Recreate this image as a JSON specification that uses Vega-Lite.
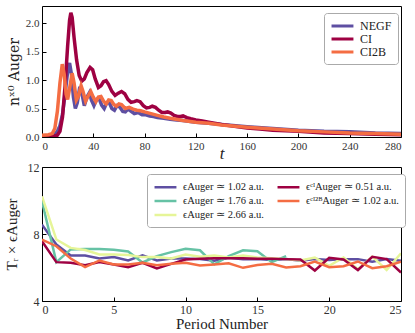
{
"$schema": "https://vega.github.io/schema/vega-lite/v6.json",
"autosize": {"type": "pad"},
"padding": {"left": 3, "top": 5, "right": 13, "bottom": 5},
"spacing": 30,
"bounds": "flush",
"config": {
  "font": "Liberation Serif",
  "view": {"stroke": "black", "strokeWidth": 1},
  "axis": {"domain": false, "grid": false, "tickColor": "black", "tickSize": -4, "labelPadding": 7, "labelColor": "#333", "labelFont": "Liberation Serif", "titleFont": "Liberation Serif", "titleFontWeight": "normal", "titleColor": "#222", "labelFontSize": 11},
  "legend": {"labelFont": "Liberation Serif", "labelFontSize": 11, "labelColor": "#222", "fillColor": "white", "strokeColor": "#aaa", "cornerRadius": 3, "padding": 6, "symbolType": "M-1,0H3", "symbolSize": 120, "symbolStrokeWidth": 3, "labelOffset": 16, "rowPadding": 1}
},
"resolve": {"scale": {"color": "independent"}, "legend": {"color": "independent"}},
"vconcat": [
{
  "width": 359, "height": 131,
  "data": {"values": [
    {"s":"NEGF","t":0,"v":0.02},{"s":"NEGF","t":5,"v":0.02},{"s":"NEGF","t":8,"v":0.03},{"s":"NEGF","t":10,"v":0.05},{"s":"NEGF","t":12,"v":0.1},{"s":"NEGF","t":14,"v":0.2},{"s":"NEGF","t":16,"v":0.4},{"s":"NEGF","t":18,"v":0.75},{"s":"NEGF","t":20,"v":1.15},{"s":"NEGF","t":21.5,"v":1.3},{"s":"NEGF","t":23,"v":1.1},{"s":"NEGF","t":24.5,"v":0.7},{"s":"NEGF","t":26,"v":0.5},{"s":"NEGF","t":27.5,"v":0.6},{"s":"NEGF","t":29.5,"v":0.88},{"s":"NEGF","t":31,"v":0.78},{"s":"NEGF","t":33,"v":0.55},{"s":"NEGF","t":35,"v":0.7},{"s":"NEGF","t":37,"v":0.78},{"s":"NEGF","t":38.5,"v":0.65},{"s":"NEGF","t":40.5,"v":0.55},{"s":"NEGF","t":42.5,"v":0.66},{"s":"NEGF","t":44.5,"v":0.68},{"s":"NEGF","t":46.5,"v":0.56},{"s":"NEGF","t":48.5,"v":0.5},{"s":"NEGF","t":50.5,"v":0.6},{"s":"NEGF","t":52.5,"v":0.6},{"s":"NEGF","t":54.5,"v":0.5},{"s":"NEGF","t":56.5,"v":0.47},{"s":"NEGF","t":58.5,"v":0.55},{"s":"NEGF","t":60.5,"v":0.53},{"s":"NEGF","t":63,"v":0.45},{"s":"NEGF","t":65,"v":0.44},{"s":"NEGF","t":67,"v":0.49},{"s":"NEGF","t":69,"v":0.46},{"s":"NEGF","t":72,"v":0.41},{"s":"NEGF","t":75,"v":0.43},{"s":"NEGF","t":78,"v":0.39},{"s":"NEGF","t":81,"v":0.39},{"s":"NEGF","t":84,"v":0.37},{"s":"NEGF","t":87,"v":0.36},{"s":"NEGF","t":90,"v":0.34},{"s":"NEGF","t":95,"v":0.33},{"s":"NEGF","t":100,"v":0.31},{"s":"NEGF","t":105,"v":0.3},{"s":"NEGF","t":110,"v":0.29},{"s":"NEGF","t":120,"v":0.26},{"s":"NEGF","t":130,"v":0.24},{"s":"NEGF","t":140,"v":0.22},{"s":"NEGF","t":160,"v":0.18},{"s":"NEGF","t":180,"v":0.15},{"s":"NEGF","t":200,"v":0.12},{"s":"NEGF","t":220,"v":0.1},{"s":"NEGF","t":240,"v":0.09},{"s":"NEGF","t":260,"v":0.07},{"s":"NEGF","t":280,"v":0.06},
    {"s":"CI","t":0,"v":0.01},{"s":"CI","t":8,"v":0.01},{"s":"CI","t":12,"v":0.03},{"s":"CI","t":14,"v":0.1},{"s":"CI","t":16,"v":0.35},{"s":"CI","t":18,"v":0.9},{"s":"CI","t":20,"v":1.6},{"s":"CI","t":21.5,"v":2.05},{"s":"CI","t":22.5,"v":2.18},{"s":"CI","t":23.5,"v":2.1},{"s":"CI","t":25,"v":1.75},{"s":"CI","t":27,"v":1.35},{"s":"CI","t":29,"v":1.08},{"s":"CI","t":31,"v":0.98},{"s":"CI","t":33,"v":1.02},{"s":"CI","t":35,"v":1.13},{"s":"CI","t":37.5,"v":1.22},{"s":"CI","t":39.5,"v":1.18},{"s":"CI","t":41.5,"v":1.02},{"s":"CI","t":44,"v":0.87},{"s":"CI","t":46,"v":0.9},{"s":"CI","t":48,"v":0.97},{"s":"CI","t":50,"v":0.99},{"s":"CI","t":52,"v":0.92},{"s":"CI","t":54.5,"v":0.8},{"s":"CI","t":57,"v":0.73},{"s":"CI","t":59.5,"v":0.77},{"s":"CI","t":62,"v":0.8},{"s":"CI","t":64.5,"v":0.76},{"s":"CI","t":67,"v":0.66},{"s":"CI","t":69.5,"v":0.61},{"s":"CI","t":72,"v":0.62},{"s":"CI","t":74,"v":0.64},{"s":"CI","t":76.5,"v":0.62},{"s":"CI","t":79,"v":0.55},{"s":"CI","t":81.5,"v":0.51},{"s":"CI","t":84,"v":0.52},{"s":"CI","t":86,"v":0.54},{"s":"CI","t":88.5,"v":0.52},{"s":"CI","t":91,"v":0.47},{"s":"CI","t":93.5,"v":0.43},{"s":"CI","t":96,"v":0.43},{"s":"CI","t":98,"v":0.44},{"s":"CI","t":100.5,"v":0.42},{"s":"CI","t":103,"v":0.38},{"s":"CI","t":105.5,"v":0.36},{"s":"CI","t":108,"v":0.36},{"s":"CI","t":110,"v":0.37},{"s":"CI","t":113,"v":0.34},{"s":"CI","t":116,"v":0.32},{"s":"CI","t":120,"v":0.3},{"s":"CI","t":125,"v":0.28},{"s":"CI","t":130,"v":0.26},{"s":"CI","t":140,"v":0.22},{"s":"CI","t":150,"v":0.19},{"s":"CI","t":160,"v":0.16},{"s":"CI","t":170,"v":0.14},{"s":"CI","t":180,"v":0.12},{"s":"CI","t":200,"v":0.1},{"s":"CI","t":220,"v":0.07},{"s":"CI","t":240,"v":0.06},{"s":"CI","t":260,"v":0.05},{"s":"CI","t":280,"v":0.04},
    {"s":"CI2B","t":0,"v":0.03},{"s":"CI2B","t":5,"v":0.04},{"s":"CI2B","t":8,"v":0.06},{"s":"CI2B","t":10,"v":0.15},{"s":"CI2B","t":12,"v":0.45},{"s":"CI2B","t":14,"v":0.95},{"s":"CI2B","t":15.8,"v":1.28},{"s":"CI2B","t":17.3,"v":1.1},{"s":"CI2B","t":18.8,"v":0.75},{"s":"CI2B","t":20,"v":0.66},{"s":"CI2B","t":21.5,"v":0.85},{"s":"CI2B","t":23.5,"v":1.12},{"s":"CI2B","t":25,"v":0.95},{"s":"CI2B","t":26.8,"v":0.65},{"s":"CI2B","t":28.5,"v":0.72},{"s":"CI2B","t":30.5,"v":0.9},{"s":"CI2B","t":32,"v":0.8},{"s":"CI2B","t":34,"v":0.63},{"s":"CI2B","t":36,"v":0.72},{"s":"CI2B","t":38,"v":0.8},{"s":"CI2B","t":40,"v":0.7},{"s":"CI2B","t":42,"v":0.62},{"s":"CI2B","t":44,"v":0.7},{"s":"CI2B","t":46,"v":0.71},{"s":"CI2B","t":48,"v":0.63},{"s":"CI2B","t":50,"v":0.58},{"s":"CI2B","t":52,"v":0.65},{"s":"CI2B","t":54,"v":0.64},{"s":"CI2B","t":56,"v":0.57},{"s":"CI2B","t":58,"v":0.54},{"s":"CI2B","t":60,"v":0.58},{"s":"CI2B","t":62,"v":0.57},{"s":"CI2B","t":65,"v":0.5},{"s":"CI2B","t":68,"v":0.52},{"s":"CI2B","t":71,"v":0.49},{"s":"CI2B","t":74,"v":0.47},{"s":"CI2B","t":77,"v":0.46},{"s":"CI2B","t":80,"v":0.44},{"s":"CI2B","t":85,"v":0.41},{"s":"CI2B","t":90,"v":0.38},{"s":"CI2B","t":95,"v":0.35},{"s":"CI2B","t":100,"v":0.33},{"s":"CI2B","t":110,"v":0.29},{"s":"CI2B","t":120,"v":0.26},{"s":"CI2B","t":130,"v":0.24},{"s":"CI2B","t":140,"v":0.21},{"s":"CI2B","t":160,"v":0.17},{"s":"CI2B","t":180,"v":0.14},{"s":"CI2B","t":200,"v":0.11},{"s":"CI2B","t":220,"v":0.09},{"s":"CI2B","t":240,"v":0.07},{"s":"CI2B","t":260,"v":0.06},{"s":"CI2B","t":280,"v":0.05}
  ]},
  "mark": {"type": "line", "strokeWidth": 3.5, "clip": true},
  "encoding": {
    "x": {"field": "t", "type": "quantitative", "scale": {"domain": [0, 280], "nice": false}, "axis": {"values": [0,40,80,120,160,200,240,280], "title": "t", "titleFontStyle": "italic", "titleFontSize": 17, "titlePadding": -6}},
    "y": {"field": "v", "type": "quantitative", "scale": {"domain": [0, 2.3], "nice": false, "zero": false}, "axis": {"values": [0,0.5,1,1.5,2], "format": ".1f", "title": "nˣ⁰ Auger", "titleFont": "DejaVu Serif", "titleFontSize": 14, "titlePadding": 4}},
    "color": {"field": "s", "type": "nominal", "sort": ["NEGF","CI","CI2B"], "scale": {"domain": ["NEGF","CI","CI2B"], "range": ["#5e4fa2","#9e0142","#f46d43"]}, "legend": {"orient": "none", "legendX": 282, "legendY": 7, "title": null, "labelFontSize": 12, "rowPadding": 0}}
  }
},
{
  "width": 359, "height": 134,
  "data": {"values": [
    {"s":"N1","n":0,"v":8.56},{"s":"N1","n":1,"v":7.37},{"s":"N1","n":2,"v":6.72},{"s":"N1","n":3,"v":6.72},{"s":"N1","n":4,"v":6.54},{"s":"N1","n":5,"v":6.62},{"s":"N1","n":6,"v":6.42},{"s":"N1","n":7,"v":6.72},{"s":"N1","n":8,"v":6.42},{"s":"N1","n":9,"v":6.54},{"s":"N1","n":10,"v":6.54},{"s":"N1","n":11,"v":6.5},{"s":"N1","n":12,"v":6.4},{"s":"N1","n":13,"v":6.58},{"s":"N1","n":14,"v":6.5},{"s":"N1","n":15,"v":6.5},{"s":"N1","n":16,"v":6.45},{"s":"N1","n":17,"v":6.5},{"s":"N1","n":18,"v":6.4},{"s":"N1","n":19,"v":6.5},{"s":"N1","n":20,"v":6.45},{"s":"N1","n":21,"v":6.5},{"s":"N1","n":22,"v":6.5},{"s":"N1","n":23,"v":6.35},{"s":"N1","n":24,"v":6.5},{"s":"N1","n":25,"v":6.4},
    {"s":"N2","n":0,"v":9.95},{"s":"N2","n":1,"v":6.32},{"s":"N2","n":2,"v":7.08},{"s":"N2","n":3,"v":7.1},{"s":"N2","n":4,"v":7.1},{"s":"N2","n":5,"v":7.06},{"s":"N2","n":6,"v":6.96},{"s":"N2","n":7,"v":6.3},{"s":"N2","n":8,"v":6.68},{"s":"N2","n":9,"v":6.92},{"s":"N2","n":10,"v":7.12},{"s":"N2","n":11,"v":7.03},{"s":"N2","n":12,"v":6.19},{"s":"N2","n":13,"v":6.68},{"s":"N2","n":14,"v":7.03},{"s":"N2","n":15,"v":6.97},{"s":"N2","n":16,"v":6.32},{"s":"N2","n":17,"v":6.68},
    {"s":"N3","n":0,"v":10.25},{"s":"N3","n":1,"v":7.67},{"s":"N3","n":2,"v":7.17},{"s":"N3","n":3,"v":7.04},{"s":"N3","n":4,"v":6.78},{"s":"N3","n":5,"v":6.78},{"s":"N3","n":6,"v":6.74},{"s":"N3","n":7,"v":6.62},{"s":"N3","n":8,"v":6.62},{"s":"N3","n":9,"v":6.54},{"s":"N3","n":10,"v":6.78},{"s":"N3","n":11,"v":6.64},{"s":"N3","n":12,"v":6.72},{"s":"N3","n":13,"v":6.6},{"s":"N3","n":14,"v":6.72},{"s":"N3","n":15,"v":6.6},{"s":"N3","n":16,"v":6.55},{"s":"N3","n":17,"v":6.5},{"s":"N3","n":18,"v":6.42},{"s":"N3","n":19,"v":6.6},{"s":"N3","n":20,"v":6.1},{"s":"N3","n":21,"v":6.6},{"s":"N3","n":22,"v":5.9},{"s":"N3","n":23,"v":6.65},{"s":"N3","n":24,"v":5.85},{"s":"N3","n":25,"v":6.85},
    {"s":"CI","n":0,"v":7.57},{"s":"CI","n":1,"v":6.32},{"s":"CI","n":2,"v":6.28},{"s":"CI","n":3,"v":6.14},{"s":"CI","n":4,"v":6.32},{"s":"CI","n":5,"v":6.18},{"s":"CI","n":6,"v":6.02},{"s":"CI","n":7,"v":6.28},{"s":"CI","n":8,"v":5.94},{"s":"CI","n":9,"v":6.22},{"s":"CI","n":10,"v":6.48},{"s":"CI","n":11,"v":6.52},{"s":"CI","n":12,"v":6.55},{"s":"CI","n":13,"v":6.55},{"s":"CI","n":14,"v":6.55},{"s":"CI","n":15,"v":6.52},{"s":"CI","n":16,"v":6.52},{"s":"CI","n":17,"v":6.5},{"s":"CI","n":18,"v":6.48},{"s":"CI","n":19,"v":5.82},{"s":"CI","n":20,"v":6.58},{"s":"CI","n":21,"v":6.48},{"s":"CI","n":22,"v":5.85},{"s":"CI","n":23,"v":6.64},{"s":"CI","n":24,"v":6.5},{"s":"CI","n":25,"v":5.7},
    {"s":"CI2B","n":0,"v":7.67},{"s":"CI2B","n":1,"v":7.27},{"s":"CI2B","n":2,"v":6.54},{"s":"CI2B","n":3,"v":6.02},{"s":"CI2B","n":4,"v":6.42},{"s":"CI2B","n":5,"v":6.18},{"s":"CI2B","n":6,"v":6.18},{"s":"CI2B","n":7,"v":6.28},{"s":"CI2B","n":8,"v":6.14},{"s":"CI2B","n":9,"v":6.22},{"s":"CI2B","n":10,"v":6.28},{"s":"CI2B","n":11,"v":6.12},{"s":"CI2B","n":12,"v":6.18},{"s":"CI2B","n":13,"v":6.25},{"s":"CI2B","n":14,"v":5.98},{"s":"CI2B","n":15,"v":6.15},{"s":"CI2B","n":16,"v":6.22},{"s":"CI2B","n":17,"v":6.0},{"s":"CI2B","n":18,"v":6.08},{"s":"CI2B","n":19,"v":6.36},{"s":"CI2B","n":20,"v":6.02},{"s":"CI2B","n":21,"v":6.08},{"s":"CI2B","n":22,"v":6.36},{"s":"CI2B","n":23,"v":5.96},{"s":"CI2B","n":24,"v":6.08},{"s":"CI2B","n":25,"v":6.34}
  ]},
  "mark": {"type": "line", "strokeWidth": 2.5, "clip": true},
  "encoding": {
    "x": {"field": "n", "type": "quantitative", "scale": {"domain": [0, 25], "nice": false}, "axis": {"values": [0,5,10,15,20,25], "title": "Period Number", "titleFontSize": 15, "titlePadding": 1, "labelFontSize": 12}},
    "y": {"field": "v", "type": "quantitative", "scale": {"domain": [4, 12], "nice": false, "zero": false}, "axis": {"values": [4,8,12], "title": "Tᵣ × ϵAuger", "titleFontSize": 15, "titlePadding": 8, "labelFontSize": 12}},
    "color": {"field": "s", "type": "nominal", "scale": {"domain": ["N1","N2","N3","CI","CI2B"], "range": ["#5e4fa2","#66c2a5","#e6f598","#9e0142","#f46d43"]}, "legend": {"orient": "none", "legendX": 105, "legendY": 7, "title": null, "columns": 2, "columnPadding": 8, "labelFontSize": 10.5, "symbolStrokeWidth": 2.5, "labelExpr": "datum.value == 'N1' ? 'ϵAuger ≃ 1.02 a.u.' : datum.value == 'N2' ? 'ϵAuger ≃ 1.76 a.u.' : datum.value == 'N3' ? 'ϵAuger ≃ 2.66 a.u.' : datum.value == 'CI' ? 'ϵᶜᴵAuger ≃ 0.51 a.u.' : 'ϵᶜᴵ²ᴮAuger ≃ 1.02 a.u.'"}}
  }
}
]
}
